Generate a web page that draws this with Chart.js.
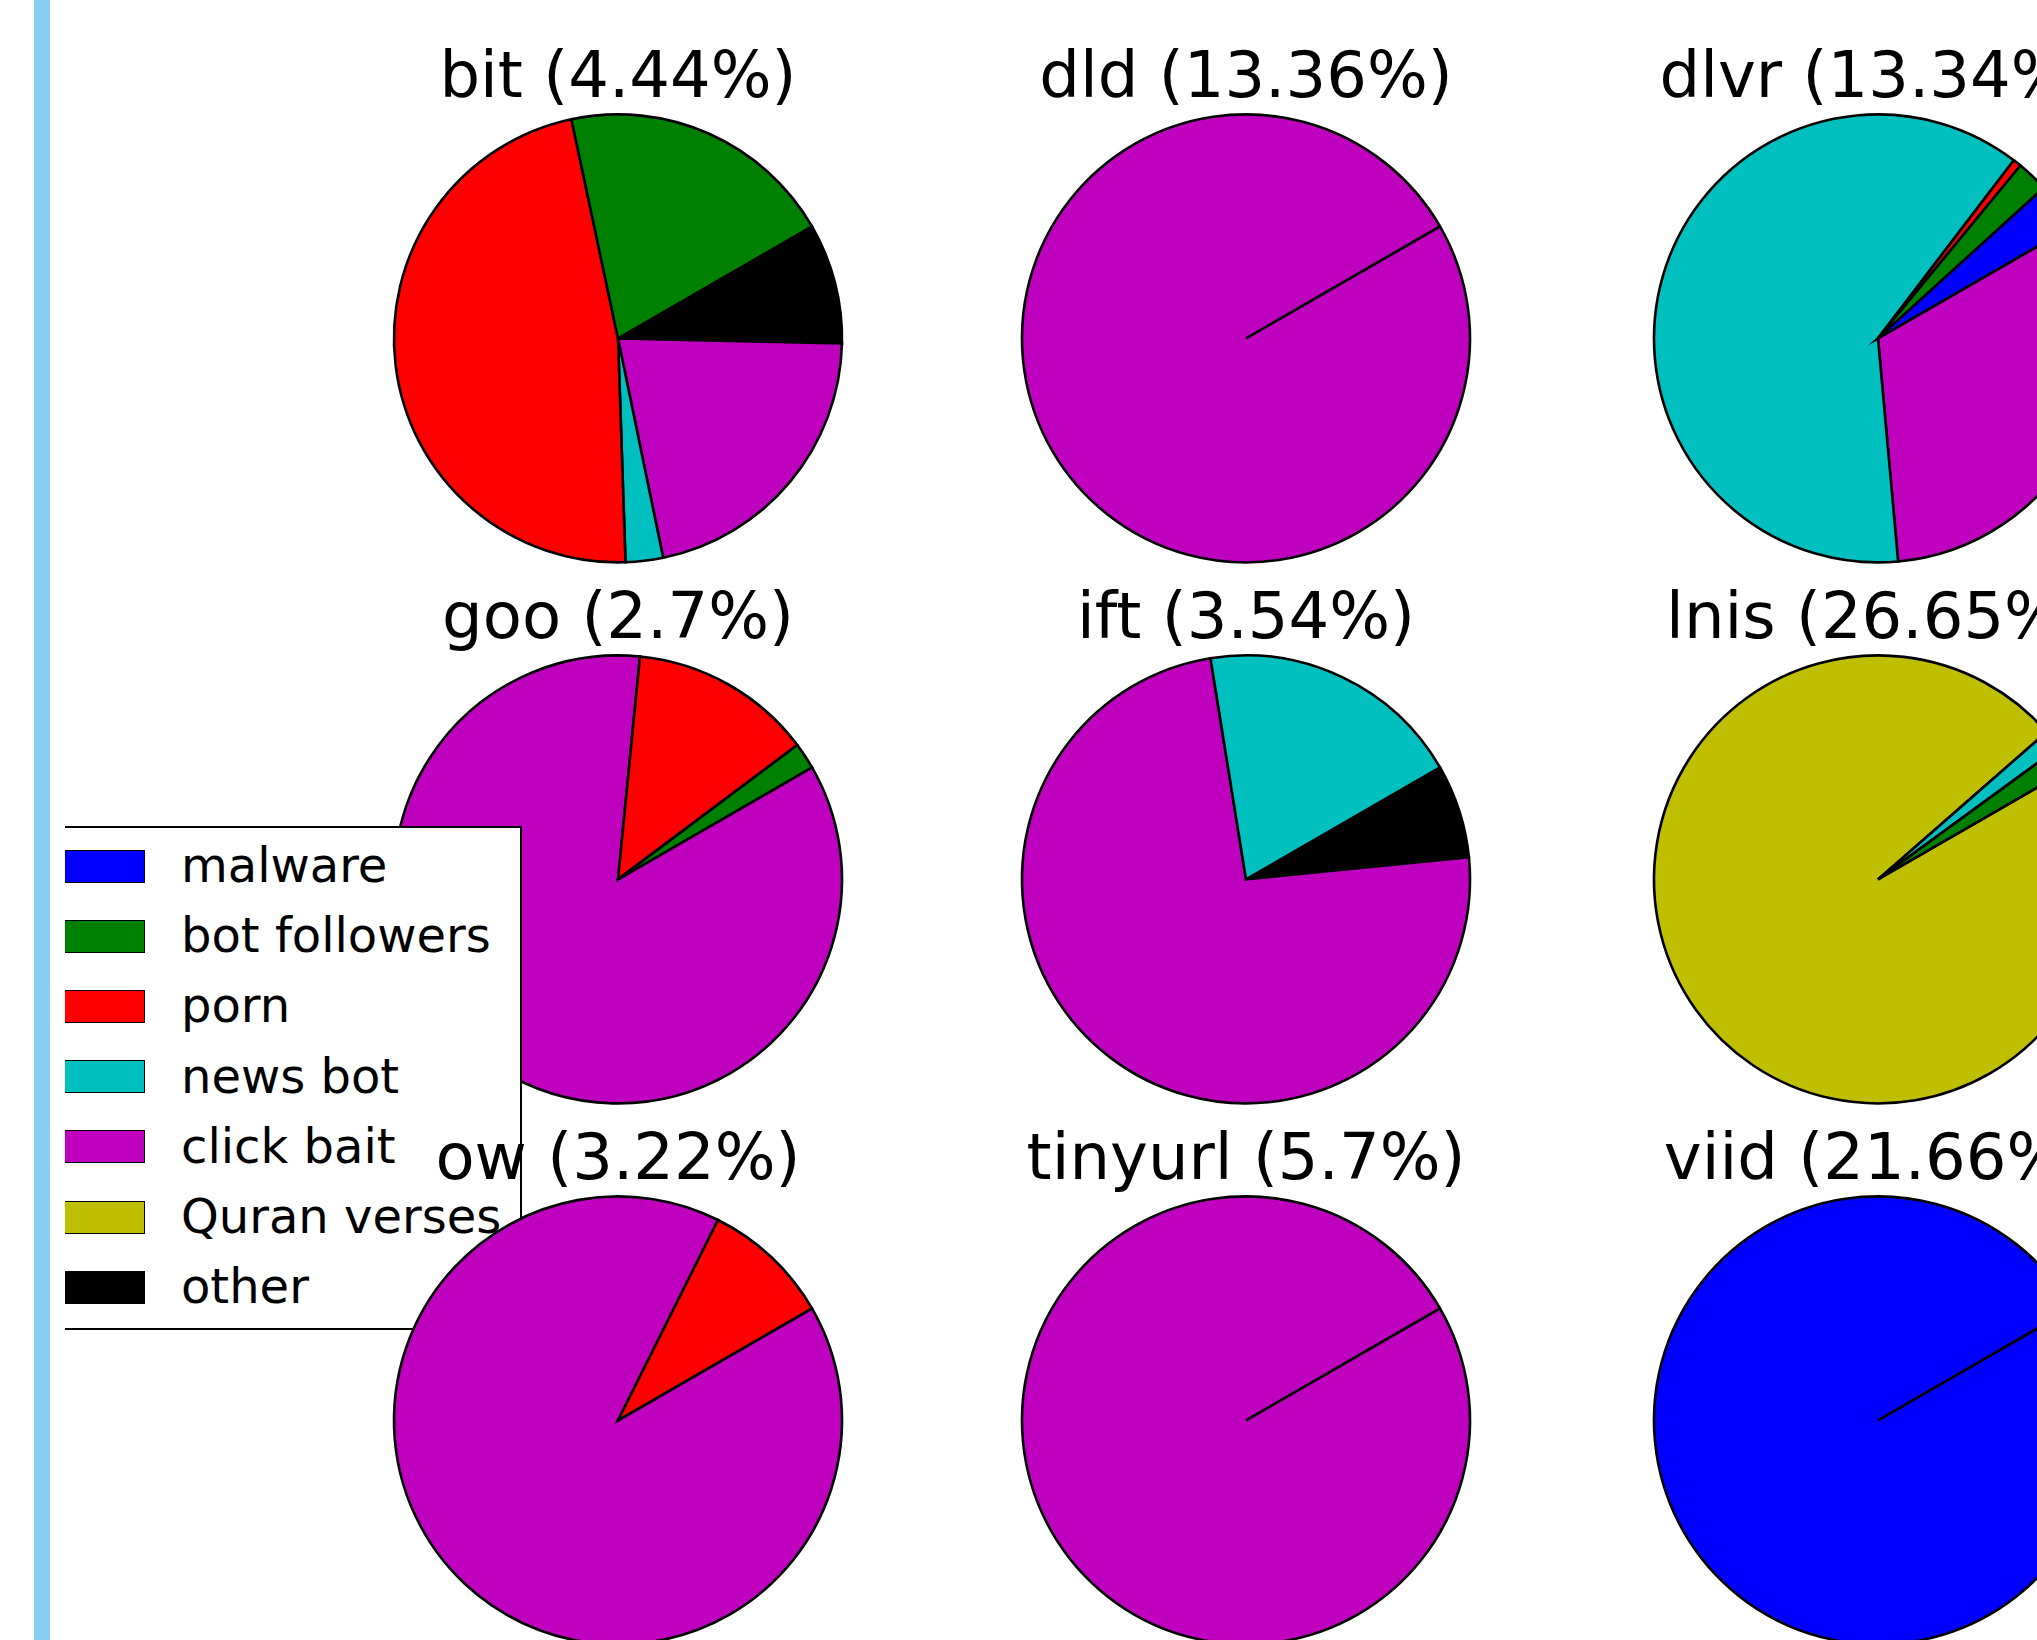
<!DOCTYPE html>
<html>
<head>
<meta charset="utf-8">
<script src="https://cdn.jsdelivr.net/npm/chart.js@4.4.0/dist/chart.umd.min.js"></script>
<style>
  html, body { margin: 0; padding: 0; background: #fff; }
  body { width: 2037px; height: 1640px; position: relative; overflow: hidden; font-family: "DejaVu Sans", sans-serif; }
  #bar { position: absolute; left: 34px; top: 0; width: 16px; height: 1640px; background: #87cef4; }
  #fig { position: absolute; left: 65px; top: 0; width: 1972px; height: 1640px; overflow: hidden; }
  .pie { position: absolute; width: 600px; height: 580px; }
  #legend { position: absolute; box-sizing: border-box; border: 2px solid #000; background: #fff; }
  .sw { position: absolute; box-sizing: border-box; border: 1.5px solid #000; }
  .lab { position: absolute; font-size: 48px; line-height: 48px; color: #000; white-space: nowrap; }
</style>
</head>
<body>
<div id="bar"></div>
<div id="fig"></div>
<script>
// categories in legend order and their matplotlib colours
const categories = ['malware', 'bot followers', 'porn', 'news bot', 'click bait', 'Quran verses', 'other'];
const colors = ['#0000ff', '#008000', '#ff0000', '#00bfbf', '#bf00bf', '#bfbf00', '#000000'];

// shortener names and their share of all links
const sites = ['bit', 'dld', 'dlvr', 'goo', 'ift', 'lnis', 'ow', 'tinyurl', 'viid'];
const shares = ['4.44', '13.36', '13.34', '2.7', '3.54', '26.65', '3.22', '5.7', '21.66'];

// percent per category, same order as categories
const bit     = [0, 20.0, 47.2, 2.7, 21.4, 0, 8.7];
const dld     = [0, 0, 0, 0, 100, 0, 0];
const dlvr    = [3.4, 2.3, 0.6, 61.8, 31.9, 0, 0];
const goo     = [0, 1.9, 13.2, 0, 84.9, 0, 0];
const ift     = [0, 0, 0, 19.2, 74.05, 0, 6.75];
const lnis    = [0, 1.7, 0, 1.4, 0, 96.9, 0];
const ow      = [0, 0, 9.3, 0, 90.7, 0, 0];
const tinyurl = [0, 0, 0, 0, 100, 0, 0];
const viid    = [100, 0, 0, 0, 0, 0, 0];

const values = [bit, dld, dlvr, goo, ift, lnis, ow, tinyurl, viid];

const fig = document.getElementById('fig');
const offX = 65;
const colX = [618, 1246, 1878];
const rowY = [338, 879, 1420];
const zOrder = [0, 0, 0, 1, 0, 0, 3, 0, 0];

sites.forEach(function (name, i) {
    const cx = colX[i % 3], cy = rowY[Math.floor(i / 3)];
    const box = document.createElement('div');
    box.className = 'pie';
    box.style.left = (cx - 300 - offX) + 'px';
    box.style.top = (cy - 296.4) + 'px';
    box.style.zIndex = zOrder[i];
    const cv = document.createElement('canvas');
    box.appendChild(cv);
    fig.appendChild(box);

    // matplotlib goes counter-clockwise from 30 deg; Chart.js goes clockwise,
    // so reverse the order and start at the same place
    new Chart(cv.getContext('2d'), {
        type: 'pie',
        data: {
            labels: categories.slice().reverse(),
            datasets: [{
                data: values[i].slice().reverse(),
                backgroundColor: colors.slice().reverse(),
                borderColor: '#000',
                borderWidth: 2.6,
                borderJoinStyle: 'miter'
            }]
        },
        options: {
            responsive: true,
            maintainAspectRatio: false,
            animation: false,
            events: [],
            rotation: 60,
            radius: 224,
            layout: { padding: { top: 0, bottom: 64, left: 0, right: 0 } },
            plugins: {
                legend: { display: false },
                tooltip: { enabled: false },
                title: {
                    display: true,
                    text: name + ' (' + shares[i] + '%)',
                    color: '#000',
                    font: { family: 'DejaVu Sans', size: 64, weight: 'normal', lineHeight: 1.2 },
                    padding: { top: 0, bottom: 0 }
                }
            }
        }
    });
});

// legend box, sits over the goo pie and under the ow pie
const legend = document.createElement('div');
legend.id = 'legend';
legend.style.left = (30 - offX) + 'px';
legend.style.top = '826px';
legend.style.width = '492px';
legend.style.height = '504px';
legend.style.zIndex = 2;
categories.forEach(function (cat, i) {
    const cy = 38 + 70.2 * i;
    const sw = document.createElement('div');
    sw.className = 'sw';
    sw.style.left = '19px';
    sw.style.top = (cy - 16.5) + 'px';
    sw.style.width = '94px';
    sw.style.height = '33px';
    sw.style.background = colors[i];
    legend.appendChild(sw);
    const lab = document.createElement('div');
    lab.className = 'lab';
    lab.style.left = '149px';
    lab.style.top = (cy - 25) + 'px';
    lab.textContent = cat;
    legend.appendChild(lab);
});
fig.appendChild(legend);
</script>
</body>
</html>
